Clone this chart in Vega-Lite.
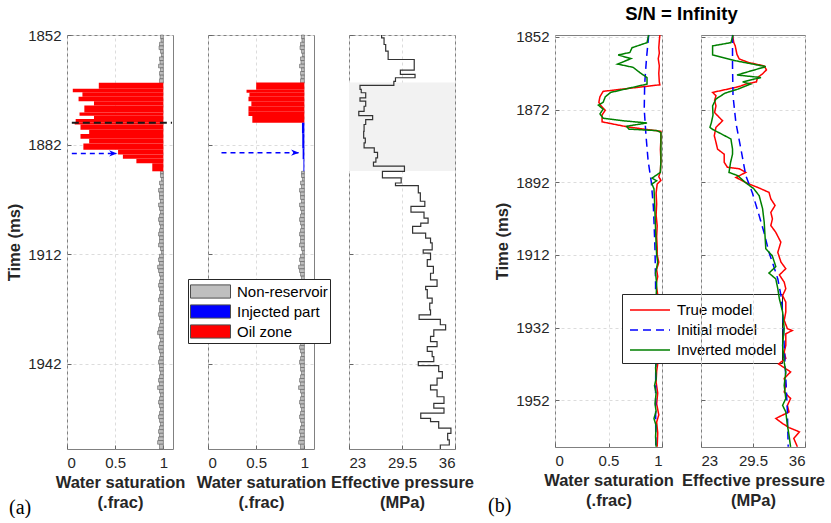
{
  "$schema": "https://vega.github.io/schema/vega-lite/v6.json",
  "background": "white",
  "padding": {"left": 6, "top": 5, "right": 0, "bottom": 0},
  "title": {"text": "S/N = Infinity", "anchor": "start", "dx": 619, "font": "Liberation Sans", "fontSize": 18.5, "fontWeight": "bold", "color": "#000000", "offset": 4},
  "config": {
    "font": "Liberation Sans",
    "view": {"stroke": "#808080", "strokeWidth": 1},
    "axis": {"grid": true, "gridColor": "#dcdcdc", "gridDash": [3, 3], "gridWidth": 1, "domain": false, "ticks": true, "tickSize": -4, "tickColor": "#666666", "tickWidth": 1, "labelFont": "Liberation Sans", "labelFontSize": 15, "labelColor": "#262626", "titleFont": "Liberation Sans", "titleFontSize": 16.5, "titleFontWeight": "bold", "titleColor": "#262626", "labelPadding": 10},
    "axisX": {"titlePadding": 4, "titleLineHeight": 20, "format": ".1~f"},
    "axisY": {"titlePadding": 5, "format": "d"},
    "legend": {"labelFont": "Liberation Sans", "labelFontSize": 15, "labelColor": "#000000", "strokeColor": "#262626", "fillColor": "#ffffff", "padding": 3}
  },
  "datasets": {
    "grey": [
      {"t0": 1852, "t1": 1853, "sw": 0.97}, {"t0": 1853, "t1": 1854, "sw": 0.975}, {"t0": 1854, "t1": 1855, "sw": 0.96}, {"t0": 1855, "t1": 1856, "sw": 0.955}, {"t0": 1856, "t1": 1857, "sw": 0.97}, {"t0": 1857, "t1": 1858, "sw": 0.98}, {"t0": 1858, "t1": 1859, "sw": 0.96}, {"t0": 1859, "t1": 1860, "sw": 0.965}, {"t0": 1860, "t1": 1861, "sw": 0.95}, {"t0": 1861, "t1": 1862, "sw": 0.97}, {"t0": 1862, "t1": 1863, "sw": 0.96}, {"t0": 1863, "t1": 1864, "sw": 0.965}, {"t0": 1864, "t1": 1865.1, "sw": 0.96},
      {"t0": 1889.3, "t1": 1890, "sw": 0.97},
      {"t0": 1890, "t1": 1891, "sw": 0.97}, {"t0": 1891, "t1": 1892, "sw": 0.98}, {"t0": 1892, "t1": 1893, "sw": 0.96}, {"t0": 1893, "t1": 1894, "sw": 0.97}, {"t0": 1894, "t1": 1895, "sw": 0.95}, {"t0": 1895, "t1": 1896, "sw": 0.96}, {"t0": 1896, "t1": 1897, "sw": 0.96}, {"t0": 1897, "t1": 1898, "sw": 0.97}, {"t0": 1898, "t1": 1899, "sw": 0.95}, {"t0": 1899, "t1": 1900, "sw": 0.96},
      {"t0": 1900, "t1": 1901, "sw": 0.97}, {"t0": 1901, "t1": 1902, "sw": 0.96}, {"t0": 1902, "t1": 1903, "sw": 0.95}, {"t0": 1903, "t1": 1904, "sw": 0.96}, {"t0": 1904, "t1": 1905, "sw": 0.97}, {"t0": 1905, "t1": 1906, "sw": 0.96}, {"t0": 1906, "t1": 1907, "sw": 0.95}, {"t0": 1907, "t1": 1908, "sw": 0.96}, {"t0": 1908, "t1": 1909, "sw": 0.96}, {"t0": 1909, "t1": 1910, "sw": 0.95},
      {"t0": 1910, "t1": 1911, "sw": 0.97}, {"t0": 1911, "t1": 1912, "sw": 0.98}, {"t0": 1912, "t1": 1913, "sw": 0.96}, {"t0": 1913, "t1": 1914, "sw": 0.95}, {"t0": 1914, "t1": 1915, "sw": 0.96}, {"t0": 1915, "t1": 1916, "sw": 0.94}, {"t0": 1916, "t1": 1917, "sw": 0.95}, {"t0": 1917, "t1": 1918, "sw": 0.96}, {"t0": 1918, "t1": 1919, "sw": 0.97}, {"t0": 1919, "t1": 1920, "sw": 0.96},
      {"t0": 1920, "t1": 1921, "sw": 0.95}, {"t0": 1921, "t1": 1922, "sw": 0.96}, {"t0": 1922, "t1": 1923, "sw": 0.97}, {"t0": 1923, "t1": 1924, "sw": 0.96}, {"t0": 1924, "t1": 1925, "sw": 0.95}, {"t0": 1925, "t1": 1926, "sw": 0.97}, {"t0": 1926, "t1": 1927, "sw": 0.96}, {"t0": 1927, "t1": 1928, "sw": 0.96}, {"t0": 1928, "t1": 1929, "sw": 0.95}, {"t0": 1929, "t1": 1930, "sw": 0.96},
      {"t0": 1930, "t1": 1931, "sw": 0.97}, {"t0": 1931, "t1": 1932, "sw": 0.96}, {"t0": 1932, "t1": 1933, "sw": 0.95}, {"t0": 1933, "t1": 1934, "sw": 0.94}, {"t0": 1934, "t1": 1935, "sw": 0.96}, {"t0": 1935, "t1": 1936, "sw": 0.97}, {"t0": 1936, "t1": 1937, "sw": 0.96}, {"t0": 1937, "t1": 1938, "sw": 0.95}, {"t0": 1938, "t1": 1939, "sw": 0.96}, {"t0": 1939, "t1": 1940, "sw": 0.97},
      {"t0": 1940, "t1": 1941, "sw": 0.96}, {"t0": 1941, "t1": 1942, "sw": 0.95}, {"t0": 1942, "t1": 1943, "sw": 0.96}, {"t0": 1943, "t1": 1944, "sw": 0.96}, {"t0": 1944, "t1": 1945, "sw": 0.97}, {"t0": 1945, "t1": 1946, "sw": 0.96}, {"t0": 1946, "t1": 1947, "sw": 0.95}, {"t0": 1947, "t1": 1948, "sw": 0.96}, {"t0": 1948, "t1": 1949, "sw": 0.94}, {"t0": 1949, "t1": 1950, "sw": 0.96},
      {"t0": 1950, "t1": 1951, "sw": 0.97}, {"t0": 1951, "t1": 1952, "sw": 0.96}, {"t0": 1952, "t1": 1953, "sw": 0.95}, {"t0": 1953, "t1": 1954, "sw": 0.96}, {"t0": 1954, "t1": 1955, "sw": 0.97}, {"t0": 1955, "t1": 1956, "sw": 0.96}, {"t0": 1956, "t1": 1957, "sw": 0.95}, {"t0": 1957, "t1": 1958, "sw": 0.96}, {"t0": 1958, "t1": 1959, "sw": 0.97}, {"t0": 1959, "t1": 1960, "sw": 0.96},
      {"t0": 1960, "t1": 1961, "sw": 0.95}, {"t0": 1961, "t1": 1962, "sw": 0.96}, {"t0": 1962, "t1": 1963, "sw": 0.95}, {"t0": 1963, "t1": 1964, "sw": 0.94}, {"t0": 1964, "t1": 1965.3, "sw": 0.96}
    ],
    "oil1": [
      {"t0": 1865.1, "t1": 1866.7, "sw": 0.33}, {"t0": 1866.7, "t1": 1867.7, "sw": 0.06}, {"t0": 1867.7, "t1": 1868.9, "sw": 0.16}, {"t0": 1868.9, "t1": 1870.1, "sw": 0.12}, {"t0": 1870.1, "t1": 1871.3, "sw": 0.28}, {"t0": 1871.3, "t1": 1873.2, "sw": 0.18}, {"t0": 1873.2, "t1": 1874.1, "sw": 0.13}, {"t0": 1874.1, "t1": 1875.0, "sw": 0.28}, {"t0": 1875.0, "t1": 1875.9, "sw": 0.09}, {"t0": 1875.9, "t1": 1876.5, "sw": 0.08}, {"t0": 1876.5, "t1": 1877.9, "sw": 0.14}, {"t0": 1877.9, "t1": 1879.1, "sw": 0.23}, {"t0": 1879.1, "t1": 1880.4, "sw": 0.14}, {"t0": 1880.4, "t1": 1881.7, "sw": 0.23}, {"t0": 1881.7, "t1": 1883.4, "sw": 0.17}, {"t0": 1883.4, "t1": 1884.7, "sw": 0.53}, {"t0": 1884.7, "t1": 1885.9, "sw": 0.58}, {"t0": 1885.9, "t1": 1887.1, "sw": 0.72}, {"t0": 1887.1, "t1": 1889.3, "sw": 0.885}
    ],
    "oil2": [
      {"t0": 1865.0, "t1": 1867.0, "sw": 0.5}, {"t0": 1867.0, "t1": 1867.8, "sw": 0.4}, {"t0": 1867.8, "t1": 1868.9, "sw": 0.43}, {"t0": 1868.9, "t1": 1870.1, "sw": 0.42}, {"t0": 1870.1, "t1": 1871.5, "sw": 0.45}, {"t0": 1871.5, "t1": 1872.9, "sw": 0.42}, {"t0": 1872.9, "t1": 1874.2, "sw": 0.42}, {"t0": 1874.2, "t1": 1876.0, "sw": 0.46}
    ],
    "inj2": [
      {"t0": 1876.0, "t1": 1879.0, "sw": 0.975}, {"t0": 1879.0, "t1": 1883.0, "sw": 0.978}, {"t0": 1883.0, "t1": 1886.0, "sw": 0.982}, {"t0": 1886.0, "t1": 1889.3, "sw": 0.99}
    ],
    "front": [{"t": 1876, "x0": 0.05, "x1": 1.09}],
    "arrow1": [{"t": 1884.4, "x0": 0.05, "x1": 0.52}],
    "arrow2": [{"t": 1884.2, "x0": 0.14, "x1": 0.945}],
    "shade": [{"t0": 1865.0, "t1": 1889.2}],
    "pe_a": [
      {"t": 1852.0, "p": 27.0}, {"t": 1852.8, "p": 27.3}, {"t": 1854.6, "p": 27.5}, {"t": 1856.4, "p": 27.8}, {"t": 1858.7, "p": 31.0}, {"t": 1861.6, "p": 29.3}, {"t": 1862.8, "p": 31.1}, {"t": 1863.7, "p": 28.7}, {"t": 1864.7, "p": 28.5}, {"t": 1865.8, "p": 24.35},
      {"t": 1866.9, "p": 24.5}, {"t": 1867.8, "p": 25.05}, {"t": 1869.2, "p": 24.35}, {"t": 1870.1, "p": 25.05}, {"t": 1871.5, "p": 24.85}, {"t": 1872.9, "p": 24.2}, {"t": 1874.05, "p": 25.9}, {"t": 1875.15, "p": 25.05}, {"t": 1876.5, "p": 24.85}, {"t": 1878.4, "p": 24.8},
      {"t": 1880.2, "p": 25.0}, {"t": 1881.5, "p": 24.85}, {"t": 1882.9, "p": 26.1}, {"t": 1884.1, "p": 26.5}, {"t": 1885.6, "p": 26.3}, {"t": 1886.8, "p": 26.0}, {"t": 1887.9, "p": 29.8}, {"t": 1889.3, "p": 27.1}, {"t": 1891.1, "p": 29.4}, {"t": 1892.5, "p": 28.7},
      {"t": 1893.2, "p": 31.5}, {"t": 1895.2, "p": 31.75}, {"t": 1897.5, "p": 32.3}, {"t": 1898.9, "p": 30.6}, {"t": 1900.5, "p": 32.2}, {"t": 1902.1, "p": 32.7}, {"t": 1903.5, "p": 31.8}, {"t": 1904.4, "p": 30.8}, {"t": 1906.2, "p": 32.4}, {"t": 1907.6, "p": 33.0},
      {"t": 1908.9, "p": 33.2}, {"t": 1910.8, "p": 32.1}, {"t": 1911.7, "p": 33.0}, {"t": 1913.5, "p": 32.6}, {"t": 1915.3, "p": 33.35}, {"t": 1917.2, "p": 33.0}, {"t": 1919.0, "p": 33.8}, {"t": 1920.8, "p": 32.4}, {"t": 1921.7, "p": 32.6}, {"t": 1924.0, "p": 33.2},
      {"t": 1925.4, "p": 32.9}, {"t": 1927.2, "p": 33.0}, {"t": 1928.6, "p": 31.6}, {"t": 1929.8, "p": 34.2}, {"t": 1931.3, "p": 34.85}, {"t": 1932.7, "p": 33.4}, {"t": 1934.5, "p": 33.0}, {"t": 1935.9, "p": 33.8}, {"t": 1937.3, "p": 32.6}, {"t": 1938.6, "p": 33.2},
      {"t": 1940.0, "p": 33.4}, {"t": 1941.4, "p": 31.5}, {"t": 1942.5, "p": 34.0}, {"t": 1944.1, "p": 34.45}, {"t": 1945.9, "p": 33.8}, {"t": 1947.8, "p": 33.0}, {"t": 1949.1, "p": 33.8}, {"t": 1951.0, "p": 34.65}, {"t": 1952.8, "p": 33.4}, {"t": 1954.1, "p": 34.65},
      {"t": 1955.5, "p": 31.8}, {"t": 1956.9, "p": 33.0}, {"t": 1957.8, "p": 34.0}, {"t": 1959.6, "p": 35.5}, {"t": 1961.0, "p": 35.1}, {"t": 1962.8, "p": 35.3}, {"t": 1964.2, "p": 34.2}, {"t": 1965.3, "p": 34.2}
    ],
    "sw_b": [
      {"model": "True model", "t": 1851.5, "v": 0.98}, {"model": "True model", "t": 1853, "v": 0.975}, {"model": "True model", "t": 1855, "v": 0.97}, {"model": "True model", "t": 1856.5, "v": 0.975}, {"model": "True model", "t": 1858, "v": 0.965}, {"model": "True model", "t": 1860, "v": 0.975}, {"model": "True model", "t": 1862, "v": 0.97}, {"model": "True model", "t": 1864.5, "v": 0.975}, {"model": "True model", "t": 1865.2, "v": 0.98}, {"model": "True model", "t": 1867.0, "v": 0.45},
      {"model": "True model", "t": 1868.5, "v": 0.42}, {"model": "True model", "t": 1870.0, "v": 0.41}, {"model": "True model", "t": 1871.0, "v": 0.43}, {"model": "True model", "t": 1872.2, "v": 0.47}, {"model": "True model", "t": 1873.5, "v": 0.44}, {"model": "True model", "t": 1875.4, "v": 0.44}, {"model": "True model", "t": 1876.8, "v": 0.68}, {"model": "True model", "t": 1878.0, "v": 0.99}, {"model": "True model", "t": 1880, "v": 0.99}, {"model": "True model", "t": 1883, "v": 0.985},
      {"model": "True model", "t": 1886, "v": 0.99}, {"model": "True model", "t": 1889, "v": 0.985}, {"model": "True model", "t": 1890.5, "v": 0.97}, {"model": "True model", "t": 1891.5, "v": 0.99}, {"model": "True model", "t": 1892.5, "v": 0.955}, {"model": "True model", "t": 1895, "v": 0.945}, {"model": "True model", "t": 1898, "v": 0.95}, {"model": "True model", "t": 1901, "v": 0.945}, {"model": "True model", "t": 1904, "v": 0.955}, {"model": "True model", "t": 1907, "v": 0.95},
      {"model": "True model", "t": 1910, "v": 0.955}, {"model": "True model", "t": 1912, "v": 0.955}, {"model": "True model", "t": 1914, "v": 0.97}, {"model": "True model", "t": 1916, "v": 0.95}, {"model": "True model", "t": 1918, "v": 0.96}, {"model": "True model", "t": 1920, "v": 0.945}, {"model": "True model", "t": 1923, "v": 0.96}, {"model": "True model", "t": 1926, "v": 0.95}, {"model": "True model", "t": 1929, "v": 0.955}, {"model": "True model", "t": 1932, "v": 0.945},
      {"model": "True model", "t": 1935, "v": 0.96}, {"model": "True model", "t": 1938, "v": 0.95}, {"model": "True model", "t": 1941, "v": 0.965}, {"model": "True model", "t": 1944, "v": 0.95}, {"model": "True model", "t": 1947, "v": 0.945}, {"model": "True model", "t": 1950, "v": 0.96}, {"model": "True model", "t": 1953, "v": 0.95}, {"model": "True model", "t": 1956, "v": 0.97}, {"model": "True model", "t": 1958, "v": 0.95}, {"model": "True model", "t": 1961, "v": 0.96}, {"model": "True model", "t": 1964.8, "v": 0.955},
      {"model": "Initial model", "t": 1851.5, "v": 0.876}, {"model": "Initial model", "t": 1858, "v": 0.855}, {"model": "Initial model", "t": 1865, "v": 0.838}, {"model": "Initial model", "t": 1872, "v": 0.834}, {"model": "Initial model", "t": 1879, "v": 0.85}, {"model": "Initial model", "t": 1886, "v": 0.87}, {"model": "Initial model", "t": 1892, "v": 0.9}, {"model": "Initial model", "t": 1899, "v": 0.92}, {"model": "Initial model", "t": 1905, "v": 0.928}, {"model": "Initial model", "t": 1911, "v": 0.935}, {"model": "Initial model", "t": 1920, "v": 0.94}, {"model": "Initial model", "t": 1930, "v": 0.94}, {"model": "Initial model", "t": 1940, "v": 0.942}, {"model": "Initial model", "t": 1950, "v": 0.94}, {"model": "Initial model", "t": 1964.8, "v": 0.942},
      {"model": "Inverted model", "t": 1851.5, "v": 0.875}, {"model": "Inverted model", "t": 1853.6, "v": 0.86}, {"model": "Inverted model", "t": 1855.0, "v": 0.72}, {"model": "Inverted model", "t": 1856.3, "v": 0.7}, {"model": "Inverted model", "t": 1857.0, "v": 0.59}, {"model": "Inverted model", "t": 1858.0, "v": 0.71}, {"model": "Inverted model", "t": 1859.5, "v": 0.585}, {"model": "Inverted model", "t": 1860.4, "v": 0.73}, {"model": "Inverted model", "t": 1862, "v": 0.8}, {"model": "Inverted model", "t": 1863.2, "v": 0.86},
      {"model": "Inverted model", "t": 1865.0, "v": 0.86}, {"model": "Inverted model", "t": 1867.3, "v": 0.52}, {"model": "Inverted model", "t": 1868.5, "v": 0.47}, {"model": "Inverted model", "t": 1870.0, "v": 0.45}, {"model": "Inverted model", "t": 1870.8, "v": 0.405}, {"model": "Inverted model", "t": 1871.9, "v": 0.45}, {"model": "Inverted model", "t": 1873.2, "v": 0.42}, {"model": "Inverted model", "t": 1874.4, "v": 0.45}, {"model": "Inverted model", "t": 1875.1, "v": 0.64}, {"model": "Inverted model", "t": 1875.7, "v": 0.86},
      {"model": "Inverted model", "t": 1876.6, "v": 0.67}, {"model": "Inverted model", "t": 1877.4, "v": 0.69}, {"model": "Inverted model", "t": 1877.8, "v": 0.95}, {"model": "Inverted model", "t": 1878.3, "v": 0.99}, {"model": "Inverted model", "t": 1882, "v": 0.99}, {"model": "Inverted model", "t": 1886, "v": 0.99}, {"model": "Inverted model", "t": 1889.3, "v": 0.985}, {"model": "Inverted model", "t": 1890.9, "v": 0.906}, {"model": "Inverted model", "t": 1891.6, "v": 0.95}, {"model": "Inverted model", "t": 1892.5, "v": 0.906},
      {"model": "Inverted model", "t": 1893.8, "v": 0.925}, {"model": "Inverted model", "t": 1897, "v": 0.93}, {"model": "Inverted model", "t": 1901, "v": 0.935}, {"model": "Inverted model", "t": 1905, "v": 0.94}, {"model": "Inverted model", "t": 1909, "v": 0.945}, {"model": "Inverted model", "t": 1912, "v": 0.95}, {"model": "Inverted model", "t": 1914, "v": 0.96}, {"model": "Inverted model", "t": 1917, "v": 0.94}, {"model": "Inverted model", "t": 1920, "v": 0.95}, {"model": "Inverted model", "t": 1924, "v": 0.945},
      {"model": "Inverted model", "t": 1928, "v": 0.95}, {"model": "Inverted model", "t": 1932, "v": 0.945}, {"model": "Inverted model", "t": 1935, "v": 0.95}, {"model": "Inverted model", "t": 1937, "v": 0.94}, {"model": "Inverted model", "t": 1940, "v": 0.955}, {"model": "Inverted model", "t": 1943, "v": 0.94}, {"model": "Inverted model", "t": 1946, "v": 0.945}, {"model": "Inverted model", "t": 1948, "v": 0.93}, {"model": "Inverted model", "t": 1950, "v": 0.945}, {"model": "Inverted model", "t": 1953, "v": 0.935},
      {"model": "Inverted model", "t": 1955, "v": 0.945}, {"model": "Inverted model", "t": 1957, "v": 0.925}, {"model": "Inverted model", "t": 1959, "v": 0.945}, {"model": "Inverted model", "t": 1962, "v": 0.94}, {"model": "Inverted model", "t": 1964.8, "v": 0.945}
    ],
    "pe_b": [
      {"model": "True model", "t": 1851.5, "v": 26.94}, {"model": "True model", "t": 1853.6, "v": 27.1}, {"model": "True model", "t": 1854.5, "v": 27.28}, {"model": "True model", "t": 1856.8, "v": 27.49}, {"model": "True model", "t": 1858.1, "v": 27.78}, {"model": "True model", "t": 1859.1, "v": 29.0}, {"model": "True model", "t": 1860.0, "v": 30.9}, {"model": "True model", "t": 1861.1, "v": 31.18}, {"model": "True model", "t": 1862.2, "v": 30.68}, {"model": "True model", "t": 1863.2, "v": 30.06},
      {"model": "True model", "t": 1864.4, "v": 29.93}, {"model": "True model", "t": 1865.0, "v": 28.6}, {"model": "True model", "t": 1865.5, "v": 27.99}, {"model": "True model", "t": 1865.9, "v": 27.36}, {"model": "True model", "t": 1867.3, "v": 24.45}, {"model": "True model", "t": 1868.2, "v": 24.87}, {"model": "True model", "t": 1869.5, "v": 24.7}, {"model": "True model", "t": 1871.0, "v": 24.87}, {"model": "True model", "t": 1872.8, "v": 24.7}, {"model": "True model", "t": 1874.0, "v": 25.2},
      {"model": "True model", "t": 1875.1, "v": 25.7}, {"model": "True model", "t": 1876.9, "v": 24.87}, {"model": "True model", "t": 1879.2, "v": 24.66}, {"model": "True model", "t": 1881.0, "v": 24.87}, {"model": "True model", "t": 1882.9, "v": 25.07}, {"model": "True model", "t": 1884.3, "v": 25.9}, {"model": "True model", "t": 1886.5, "v": 25.9}, {"model": "True model", "t": 1887.9, "v": 26.3}, {"model": "True model", "t": 1888.3, "v": 27.78}, {"model": "True model", "t": 1889.3, "v": 28.6},
      {"model": "True model", "t": 1890.7, "v": 27.36}, {"model": "True model", "t": 1892.5, "v": 29.0}, {"model": "True model", "t": 1893.4, "v": 30.06}, {"model": "True model", "t": 1894.8, "v": 31.5}, {"model": "True model", "t": 1896.6, "v": 31.73}, {"model": "True model", "t": 1898.4, "v": 32.26}, {"model": "True model", "t": 1900.3, "v": 31.73}, {"model": "True model", "t": 1902.1, "v": 31.93}, {"model": "True model", "t": 1903.9, "v": 31.73}, {"model": "True model", "t": 1905.8, "v": 32.35},
      {"model": "True model", "t": 1908.5, "v": 32.98}, {"model": "True model", "t": 1911.3, "v": 32.6}, {"model": "True model", "t": 1914.0, "v": 33.0}, {"model": "True model", "t": 1915.8, "v": 33.6}, {"model": "True model", "t": 1917.5, "v": 32.8}, {"model": "True model", "t": 1919.5, "v": 33.4}, {"model": "True model", "t": 1921.3, "v": 33.6}, {"model": "True model", "t": 1923.2, "v": 33.2}, {"model": "True model", "t": 1925.0, "v": 33.6}, {"model": "True model", "t": 1927.7, "v": 33.6},
      {"model": "True model", "t": 1930.0, "v": 33.4}, {"model": "True model", "t": 1932.3, "v": 33.8}, {"model": "True model", "t": 1932.8, "v": 34.4}, {"model": "True model", "t": 1933.7, "v": 33.6}, {"model": "True model", "t": 1936.9, "v": 33.6}, {"model": "True model", "t": 1938.7, "v": 33.4}, {"model": "True model", "t": 1940.5, "v": 33.6}, {"model": "True model", "t": 1942.0, "v": 32.7}, {"model": "True model", "t": 1944.2, "v": 34.2}, {"model": "True model", "t": 1946.0, "v": 33.4},
      {"model": "True model", "t": 1947.9, "v": 33.6}, {"model": "True model", "t": 1949.7, "v": 33.4}, {"model": "True model", "t": 1951.5, "v": 34.2}, {"model": "True model", "t": 1953.4, "v": 33.8}, {"model": "True model", "t": 1955.2, "v": 34.0}, {"model": "True model", "t": 1957.0, "v": 32.35}, {"model": "True model", "t": 1958.4, "v": 33.2}, {"model": "True model", "t": 1959.5, "v": 34.0}, {"model": "True model", "t": 1960.7, "v": 35.3}, {"model": "True model", "t": 1962.5, "v": 34.6}, {"model": "True model", "t": 1964.8, "v": 35.05},
      {"model": "Initial model", "t": 1851.5, "v": 26.94}, {"model": "Initial model", "t": 1860, "v": 26.94}, {"model": "Initial model", "t": 1868.2, "v": 27.0}, {"model": "Initial model", "t": 1875.6, "v": 27.36}, {"model": "Initial model", "t": 1883, "v": 28.0}, {"model": "Initial model", "t": 1890.2, "v": 28.6}, {"model": "Initial model", "t": 1894.8, "v": 29.4}, {"model": "Initial model", "t": 1901.2, "v": 30.27}, {"model": "Initial model", "t": 1906, "v": 30.9}, {"model": "Initial model", "t": 1911.3, "v": 31.5}, {"model": "Initial model", "t": 1915.2, "v": 32.1}, {"model": "Initial model", "t": 1918.6, "v": 32.6}, {"model": "Initial model", "t": 1923.2, "v": 33.0}, {"model": "Initial model", "t": 1927.7, "v": 33.2}, {"model": "Initial model", "t": 1936.9, "v": 33.4}, {"model": "Initial model", "t": 1946.0, "v": 33.6}, {"model": "Initial model", "t": 1955.2, "v": 33.8}, {"model": "Initial model", "t": 1964.8, "v": 33.9},
      {"model": "Inverted model", "t": 1851.5, "v": 27.0}, {"model": "Inverted model", "t": 1853.6, "v": 26.74}, {"model": "Inverted model", "t": 1854.5, "v": 24.45}, {"model": "Inverted model", "t": 1857.0, "v": 24.45}, {"model": "Inverted model", "t": 1858.6, "v": 27.36}, {"model": "Inverted model", "t": 1860.2, "v": 31.1}, {"model": "Inverted model", "t": 1862.5, "v": 27.5}, {"model": "Inverted model", "t": 1863.2, "v": 30.5}, {"model": "Inverted model", "t": 1864.4, "v": 28.2}, {"model": "Inverted model", "t": 1865.0, "v": 29.2},
      {"model": "Inverted model", "t": 1866.4, "v": 27.6}, {"model": "Inverted model", "t": 1867.5, "v": 26.0}, {"model": "Inverted model", "t": 1869.1, "v": 24.87}, {"model": "Inverted model", "t": 1871.0, "v": 24.45}, {"model": "Inverted model", "t": 1873.5, "v": 24.5}, {"model": "Inverted model", "t": 1875.6, "v": 24.3}, {"model": "Inverted model", "t": 1876.9, "v": 24.12}, {"model": "Inverted model", "t": 1877.4, "v": 24.4}, {"model": "Inverted model", "t": 1880.1, "v": 26.74}, {"model": "Inverted model", "t": 1882.9, "v": 26.94},
      {"model": "Inverted model", "t": 1884.3, "v": 26.94}, {"model": "Inverted model", "t": 1886.5, "v": 26.7}, {"model": "Inverted model", "t": 1889.3, "v": 26.5}, {"model": "Inverted model", "t": 1890.2, "v": 27.6}, {"model": "Inverted model", "t": 1892.0, "v": 28.5}, {"model": "Inverted model", "t": 1893.8, "v": 29.6}, {"model": "Inverted model", "t": 1895.7, "v": 30.27}, {"model": "Inverted model", "t": 1899.3, "v": 30.7}, {"model": "Inverted model", "t": 1903.0, "v": 30.9}, {"model": "Inverted model", "t": 1910.3, "v": 31.1},
      {"model": "Inverted model", "t": 1912.2, "v": 31.9}, {"model": "Inverted model", "t": 1915.2, "v": 32.35}, {"model": "Inverted model", "t": 1917.0, "v": 31.5}, {"model": "Inverted model", "t": 1918.6, "v": 32.35}, {"model": "Inverted model", "t": 1921.3, "v": 32.6}, {"model": "Inverted model", "t": 1924.1, "v": 32.8}, {"model": "Inverted model", "t": 1927.7, "v": 33.2}, {"model": "Inverted model", "t": 1932.3, "v": 33.4}, {"model": "Inverted model", "t": 1936.9, "v": 33.2}, {"model": "Inverted model", "t": 1941.5, "v": 33.4},
      {"model": "Inverted model", "t": 1944.2, "v": 33.6}, {"model": "Inverted model", "t": 1947.9, "v": 33.4}, {"model": "Inverted model", "t": 1951.5, "v": 33.6}, {"model": "Inverted model", "t": 1953.4, "v": 33.2}, {"model": "Inverted model", "t": 1955.2, "v": 33.6}, {"model": "Inverted model", "t": 1958.9, "v": 33.8}, {"model": "Inverted model", "t": 1961.6, "v": 34.0}, {"model": "Inverted model", "t": 1964.8, "v": 34.2}
    ]
  },
  "resolve": {"scale": {"color": "independent", "strokeDash": "independent"}},
  "spacing": 12,
  "hconcat": [
    {
      "bounds": "flush",
      "spacing": 35,
      "resolve": {"scale": {"color": "independent"}},
      "hconcat": [
        {
          "width": 106, "height": 414,
          "title": {"text": "(a)", "orient": "bottom", "anchor": "start", "frame": "group", "font": "Liberation Serif", "fontSize": 20, "fontWeight": "normal", "color": "#000000", "dx": -58, "dy": -13, "offset": 0},
          "layer": [
            {
              "data": {"name": "grey"},
              "mark": {"type": "rect", "stroke": "#4d4d4d", "strokeWidth": 0.5},
              "encoding": {
                "x": {"field": "sw", "type": "quantitative", "scale": {"domain": [0, 1.1], "nice": false, "zero": false}, "axis": {"values": [0, 0.5, 1], "title": ["Water saturation", "(.frac)"]}},
                "x2": {"datum": 1},
                "y": {"field": "t0", "type": "quantitative", "scale": {"domain": [1852, 1965.3], "reverse": true, "nice": false, "zero": false}, "axis": {"values": [1852, 1882, 1912, 1942], "title": "Time (ms)"}},
                "y2": {"field": "t1"},
                "color": {"datum": "Non-reservoir", "type": "nominal", "scale": {"domain": ["Non-reservoir", "Injected part", "Oil zone"], "range": ["#bfbfbf", "#0000ff", "#ff0000"]}, "legend": null}
              }
            },
            {
              "mark": {"type": "rule", "color": "#666666", "strokeWidth": 1.5},
              "encoding": {"x": {"datum": 1}}
            },
            {
              "data": {"name": "oil1"},
              "mark": {"type": "rect"},
              "encoding": {
                "x": {"field": "sw", "type": "quantitative"},
                "x2": {"datum": 1},
                "y": {"field": "t0", "type": "quantitative"},
                "y2": {"field": "t1"},
                "color": {"datum": "Oil zone", "type": "nominal", "legend": null}
              }
            },
            {
              "data": {"name": "front"},
              "mark": {"type": "rule", "color": "#1a1a1a", "strokeWidth": 2, "strokeDash": [7, 4]},
              "encoding": {"x": {"field": "x0", "type": "quantitative"}, "x2": {"field": "x1"}, "y": {"field": "t", "type": "quantitative"}}
            },
            {
              "data": {"name": "arrow1"},
              "mark": {"type": "rule", "color": "#0000ff", "strokeWidth": 1.5, "strokeDash": [5, 4]},
              "encoding": {"x": {"field": "x0", "type": "quantitative"}, "x2": {"field": "x1"}, "y": {"field": "t", "type": "quantitative"}}
            },
            {
              "data": {"name": "arrow1"},
              "mark": {"type": "point", "shape": "M-1,-0.4L0,0L-1,0.4L-0.7,0Z", "filled": true, "color": "#0000ff", "opacity": 1, "size": 256},
              "encoding": {"x": {"field": "x1", "type": "quantitative"}, "y": {"field": "t", "type": "quantitative"}}
            }
          ]
        },
        {
          "width": 106, "height": 414,
          "layer": [
            {
              "data": {"name": "grey"},
              "mark": {"type": "rect", "stroke": "#4d4d4d", "strokeWidth": 0.5},
              "encoding": {
                "x": {"field": "sw", "type": "quantitative", "scale": {"domain": [0, 1.1], "nice": false, "zero": false}, "axis": {"values": [0, 0.5, 1], "title": ["Water saturation", "(.frac)"]}},
                "x2": {"datum": 1},
                "y": {"field": "t0", "type": "quantitative", "scale": {"domain": [1852, 1965.3], "reverse": true, "nice": false, "zero": false}, "axis": {"values": [1852, 1882, 1912, 1942], "labels": false, "title": null}},
                "y2": {"field": "t1"},
                "color": {"datum": "Non-reservoir", "type": "nominal", "scale": {"domain": ["Non-reservoir", "Injected part", "Oil zone"], "range": ["#bfbfbf", "#0000ff", "#ff0000"]},
                  "legend": {"orient": "none", "legendX": -20, "legendY": 244, "title": null, "symbolType": "M-2,-0.66L2,-0.66L2,0.66L-2,0.66Z", "symbolSize": 400, "symbolOffset": 10, "symbolStrokeColor": "#4d4d4d", "symbolStrokeWidth": 1, "rowPadding": 0, "labelOffset": 16, "padding": 2}}
              }
            },
            {
              "mark": {"type": "rule", "color": "#333333", "strokeWidth": 1.5},
              "encoding": {"x": {"datum": 1}}
            },
            {
              "data": {"name": "oil2"},
              "mark": {"type": "rect"},
              "encoding": {
                "x": {"field": "sw", "type": "quantitative"},
                "x2": {"datum": 1},
                "y": {"field": "t0", "type": "quantitative"},
                "y2": {"field": "t1"},
                "color": {"datum": "Oil zone", "type": "nominal"}
              }
            },
            {
              "data": {"name": "inj2"},
              "mark": {"type": "rect"},
              "encoding": {
                "x": {"field": "sw", "type": "quantitative"},
                "x2": {"datum": 1},
                "y": {"field": "t0", "type": "quantitative"},
                "y2": {"field": "t1"},
                "color": {"datum": "Injected part", "type": "nominal"}
              }
            },
            {
              "data": {"name": "arrow2"},
              "mark": {"type": "rule", "color": "#0000ff", "strokeWidth": 1.5, "strokeDash": [5, 4]},
              "encoding": {"x": {"field": "x0", "type": "quantitative"}, "x2": {"field": "x1"}, "y": {"field": "t", "type": "quantitative"}}
            },
            {
              "data": {"name": "arrow2"},
              "mark": {"type": "point", "shape": "M-1,-0.4L0,0L-1,0.4L-0.7,0Z", "filled": true, "color": "#0000ff", "opacity": 1, "size": 256},
              "encoding": {"x": {"field": "x1", "type": "quantitative"}, "y": {"field": "t", "type": "quantitative"}}
            }
          ]
        },
        {
          "width": 106, "height": 414,
          "layer": [
            {
              "data": {"name": "shade"},
              "mark": {"type": "rect", "color": "#f2f2f2"},
              "encoding": {
                "y": {"field": "t0", "type": "quantitative", "scale": {"domain": [1852, 1965.3], "reverse": true, "nice": false, "zero": false}, "axis": {"values": [1852, 1882, 1912, 1942], "labels": false, "title": null}},
                "y2": {"field": "t1"}
              }
            },
            {
              "data": {"name": "pe_a"},
              "mark": {"type": "line", "interpolate": "step-before", "color": "#333333", "strokeWidth": 1.2},
              "encoding": {
                "x": {"field": "p", "type": "quantitative", "scale": {"domain": [23, 36], "nice": false, "zero": false}, "axis": {"values": [23, 29.5, 36], "title": ["Effective pressure", "(MPa)"]}},
                "y": {"field": "t", "type": "quantitative"},
                "order": {"field": "t", "type": "quantitative"}
              }
            }
          ]
        }
      ]
    },
    {
      "bounds": "flush",
      "spacing": 39,
      "resolve": {"scale": {"color": "independent", "strokeDash": "independent"}},
      "hconcat": [
        {
          "width": 107, "height": 412,
          "title": {"text": "(b)", "orient": "bottom", "anchor": "start", "frame": "group", "font": "Liberation Serif", "fontSize": 20, "fontWeight": "normal", "color": "#000000", "dx": -67, "dy": -13, "offset": 0},
          "data": {"name": "sw_b"},
          "mark": {"type": "line", "strokeWidth": 1.5},
          "encoding": {
            "x": {"field": "v", "type": "quantitative", "scale": {"domain": [0, 1], "nice": false, "zero": false}, "axis": {"values": [0, 0.5, 1], "title": ["Water saturation", "(.frac)"]}},
            "y": {"field": "t", "type": "quantitative", "scale": {"domain": [1851.5, 1964.85], "reverse": true, "nice": false, "zero": false}, "axis": {"values": [1852, 1872, 1892, 1912, 1932, 1952], "title": "Time (ms)"}},
            "order": {"field": "t", "type": "quantitative"},
            "color": {"field": "model", "type": "nominal", "scale": {"domain": ["True model", "Initial model", "Inverted model"], "range": ["#ff0000", "#0000ff", "#008000"]},
              "legend": {"orient": "none", "legendX": 67, "legendY": 259, "title": null, "symbolType": "M-2,0L2,0", "symbolSize": 400, "symbolOffset": 12, "symbolStrokeWidth": 1.5, "labelOffset": 16, "rowPadding": 1, "padding": 5}},
            "strokeDash": {"field": "model", "type": "nominal", "scale": {"domain": ["True model", "Initial model", "Inverted model"], "range": [[1, 0], [8, 5], [1, 0]]},
              "legend": {"orient": "none", "legendX": 67, "legendY": 259, "title": null, "symbolType": "M-2,0L2,0", "symbolSize": 400, "symbolOffset": 12, "symbolStrokeWidth": 1.5, "labelOffset": 16, "rowPadding": 1, "padding": 5}}
          }
        },
        {
          "width": 104, "height": 412,
          "data": {"name": "pe_b"},
          "mark": {"type": "line", "strokeWidth": 1.5},
          "encoding": {
            "x": {"field": "v", "type": "quantitative", "scale": {"domain": [23, 36], "nice": false, "zero": false}, "axis": {"values": [23, 29.5, 36], "title": ["Effective pressure", "(MPa)"]}},
            "y": {"field": "t", "type": "quantitative", "scale": {"domain": [1851.5, 1964.85], "reverse": true, "nice": false, "zero": false}, "axis": {"values": [1852, 1872, 1892, 1912, 1932, 1952], "labels": false, "title": null}},
            "order": {"field": "t", "type": "quantitative"},
            "color": {"field": "model", "type": "nominal", "scale": {"domain": ["True model", "Initial model", "Inverted model"], "range": ["#ff0000", "#0000ff", "#008000"]}, "legend": null},
            "strokeDash": {"field": "model", "type": "nominal", "scale": {"domain": ["True model", "Initial model", "Inverted model"], "range": [[1, 0], [8, 5], [1, 0]]}, "legend": null}
          }
        }
      ]
    }
  ]
}
